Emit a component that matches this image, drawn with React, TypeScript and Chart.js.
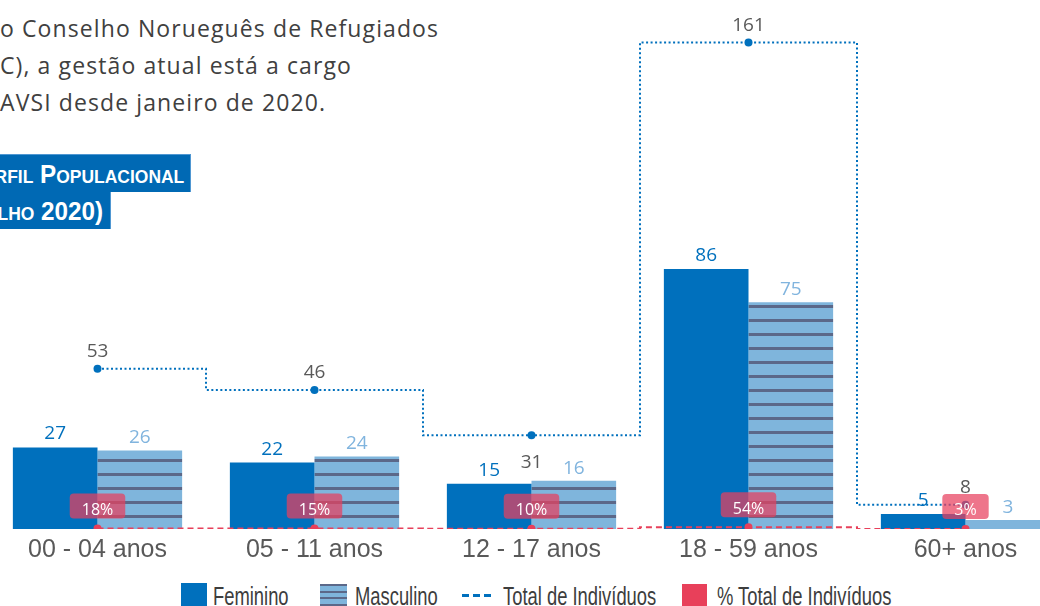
import React, { useEffect, useRef } from "react";
import { Chart, registerables } from "chart.js";

Chart.register(...registerables);

// ---- Data ----
const categories = ["00 - 04 anos", "05 - 11 anos", "12 - 17 anos", "18 - 59 anos", "60+ anos"];
const feminino = [27, 22, 15, 86, 5];
const masculino = [26, 24, 16, 75, 3];
const totalIndividuos = [53, 46, 31, 161, 8];
const percentTotal = [0.18, 0.15, 0.1, 0.54, 0.03];
const totalLabelBelow = [false, false, true, false, false];
const legendLabels = ["Feminino", "Masculino", "Total de Indivíduos", "% Total de Indivíduos"];
const introLines = [
  "o Conselho Norueguês de Refugiados",
  "C), a gestão atual está a cargo",
  "AVSI desde janeiro de 2020.",
];
const bannerLines = ["Perfil Populacional", "(Julho 2020)"];

const FEM = "#0070bd";
const MASC_LIGHT = "#7fb5dc";
const MASC_DARK = "#5b6889";
const RED = "#e8405a";
const NUM_FONT = '"Open Sans", "DejaVu Sans", sans-serif';

function makeStripePattern(ctx: CanvasRenderingContext2D) {
  const pc = document.createElement("canvas");
  pc.width = 14;
  pc.height = 14;
  const p = pc.getContext("2d")!;
  p.fillStyle = MASC_LIGHT;
  p.fillRect(0, 0, 14, 14);
  p.fillStyle = MASC_DARK;
  p.fillRect(0, 11, 14, 3);
  return ctx.createPattern(pc, "repeat")!;
}

const labelsPlugin = {
  id: "customLabels",
  afterDatasetsDraw(chart: any) {
    const ctx: CanvasRenderingContext2D = chart.ctx;
    ctx.save();
    ctx.textAlign = "center";
    ctx.textBaseline = "alphabetic";
    ctx.font = `19px ${NUM_FONT}`;
    chart.getDatasetMeta(0).data.forEach((bar: any, i: number) => {
      ctx.fillStyle = FEM;
      ctx.fillText(String(feminino[i]), bar.x, bar.y - 8);
    });
    chart.getDatasetMeta(1).data.forEach((bar: any, i: number) => {
      ctx.fillStyle = "#80b4de";
      ctx.fillText(String(masculino[i]), bar.x, bar.y - 7);
    });
    chart.getDatasetMeta(2).data.forEach((pt: any, i: number) => {
      ctx.fillStyle = "#595959";
      const y = totalLabelBelow[i] ? pt.y + 33 : pt.y - 11.6;
      ctx.fillText(String(totalIndividuos[i]), pt.x, y);
    });
    ctx.font = `16px ${NUM_FONT}`;
    chart.getDatasetMeta(3).data.forEach((pt: any, i: number) => {
      const text = Math.round(percentTotal[i] * 100) + "%";
      const w = ctx.measureText(text).width + 24;
      const h = 25;
      const cy = pt.y - 22.5;
      ctx.fillStyle = "rgba(232,64,94,0.72)";
      ctx.beginPath();
      (ctx as any).roundRect(pt.x - w / 2, cy - h / 2, w, h, 4);
      ctx.fill();
      ctx.fillStyle = "#ffffff";
      ctx.fillText(text, pt.x, cy + 8.8);
    });
    ctx.restore();
  },
};

function ChartCanvas() {
  const ref = useRef<HTMLCanvasElement | null>(null);
  useEffect(() => {
    let chart: Chart | null = null;
    let cancelled = false;
    const build = () => {
      if (cancelled || !ref.current) return;
      const ctx = ref.current.getContext("2d")!;
      const pattern = makeStripePattern(ctx);
      chart = new Chart(ctx, {
        type: "bar",
        data: {
          labels: categories,
          datasets: [
            {
              type: "bar",
              label: legendLabels[0],
              data: feminino,
              backgroundColor: FEM,
              barPercentage: 1,
              categoryPercentage: 0.78,
              order: 2,
            },
            {
              type: "bar",
              label: legendLabels[1],
              data: masculino,
              backgroundColor: pattern as any,
              barPercentage: 1,
              categoryPercentage: 0.78,
              order: 3,
            },
            {
              type: "line",
              label: legendLabels[2],
              data: totalIndividuos,
              borderColor: FEM,
              borderWidth: 2,
              borderDash: [2, 2.5],
              stepped: "middle",
              pointRadius: 4,
              pointBorderWidth: 0,
              pointBackgroundColor: FEM,
              fill: false,
              order: 1,
            },
            {
              type: "line",
              label: legendLabels[3],
              data: percentTotal,
              borderColor: RED,
              borderWidth: 2,
              borderDash: [6, 4],
              stepped: "middle",
              pointRadius: 4,
              pointBorderWidth: 0,
              pointBackgroundColor: RED,
              fill: false,
              order: 0,
            },
          ] as any,
        },
        options: {
          responsive: true,
          maintainAspectRatio: false,
          animation: false,
          layout: { padding: 0 },
          plugins: { legend: { display: false }, tooltip: { enabled: false } },
          scales: {
            x: {
              grid: { display: false, drawTicks: false },
              border: { display: false },
              ticks: {
                font: { family: '"Liberation Sans", Arial, sans-serif', size: 25 },
                color: "#595959",
                padding: 6,
                maxRotation: 0,
                autoSkip: false,
              },
            },
            y: { display: false, min: 0, max: 173.7 },
          },
        },
        plugins: [labelsPlugin],
      });
    };
    const fontsReady = (document as any).fonts
      ? Promise.all([
          (document as any).fonts.load('19px "Open Sans"'),
          (document as any).fonts.load('25px "Liberation Sans"'),
        ]).catch(() => null)
      : Promise.resolve();
    fontsReady.then(build);
    return () => {
      cancelled = true;
      if (chart) chart.destroy();
    };
  }, []);
  return (
    <div style={{ position: "absolute", left: -15, top: 0, width: 1093, height: 571 }}>
      <canvas ref={ref} />
    </div>
  );
}

const legendText: React.CSSProperties = {
  position: "absolute",
  top: 584,
  fontFamily: '"Liberation Sans", Arial, sans-serif',
  fontSize: 25,
  lineHeight: "25px",
  color: "#3d3d3d",
  whiteSpace: "nowrap",
  transform: "scaleX(0.735)",
  transformOrigin: "left center",
};

const bannerText: React.CSSProperties = {
  position: "absolute",
  fontFamily: '"Liberation Sans", Arial, sans-serif',
  fontWeight: "bold",
  fontSize: 25,
  lineHeight: "37px",
  fontVariant: "small-caps",
  color: "#ffffff",
  whiteSpace: "nowrap",
  transform: "scaleX(0.97)",
  transformOrigin: "right center",
};

export default function App() {
  return (
    <div
      style={{
        position: "fixed",
        left: 0,
        top: 0,
        width: 1040,
        height: 606,
        overflow: "hidden",
        background: "#ffffff",
      }}
    >
      {/* intro text */}
      {introLines.map((t, i) => (
        <div
          key={i}
          style={{
            position: "absolute",
            left: 0,
            top: 13 + i * 37,
            fontFamily: '"Open Sans", sans-serif',
            fontSize: 23,
            lineHeight: "30px",
            letterSpacing: 1.1,
            color: "#404040",
            whiteSpace: "nowrap",
          }}
        >
          {t}
        </div>
      ))}

      {/* banner */}
      <div
        style={{
          position: "absolute",
          left: -300,
          top: 154,
          width: 491,
          height: 38,
          background: "#0069b4",
          borderTop: "1px solid #4f97d2",
          borderRight: "1px solid #4f97d2",
          boxSizing: "border-box",
        }}
      >
        <div style={{ ...bannerText, right: 6, top: 1 }}>{bannerLines[0]}</div>
      </div>
      <div
        style={{
          position: "absolute",
          left: -300,
          top: 192,
          width: 411,
          height: 37,
          background: "#0069b4",
          borderRight: "1px solid #4f97d2",
          boxSizing: "border-box",
        }}
      >
        <div style={{ ...bannerText, right: 7, top: 1 }}>{bannerLines[1]}</div>
      </div>

      <ChartCanvas />

      {/* legend */}
      <div style={{ position: "absolute", left: 181, top: 583, width: 26, height: 24, background: FEM }} />
      <div style={{ ...legendText, left: 213 }}>{legendLabels[0]}</div>
      <div
        style={{
          position: "absolute",
          left: 320,
          top: 584,
          width: 27,
          height: 22,
          background: `repeating-linear-gradient(to bottom, ${MASC_DARK} 0px, ${MASC_DARK} 2px, ${MASC_LIGHT} 2px, ${MASC_LIGHT} 6.7px)`,
        }}
      />
      <div style={{ ...legendText, left: 355 }}>{legendLabels[1]}</div>
      {[0, 1, 2].map((k) => (
        <div
          key={k}
          style={{ position: "absolute", left: 462 + k * 11, top: 594, width: 7, height: 2.5, background: FEM }}
        />
      ))}
      <div style={{ ...legendText, left: 503 }}>{legendLabels[2]}</div>
      <div style={{ position: "absolute", left: 682, top: 584, width: 25, height: 22, background: RED }} />
      <div style={{ ...legendText, left: 717 }}>{legendLabels[3]}</div>
    </div>
  );
}
